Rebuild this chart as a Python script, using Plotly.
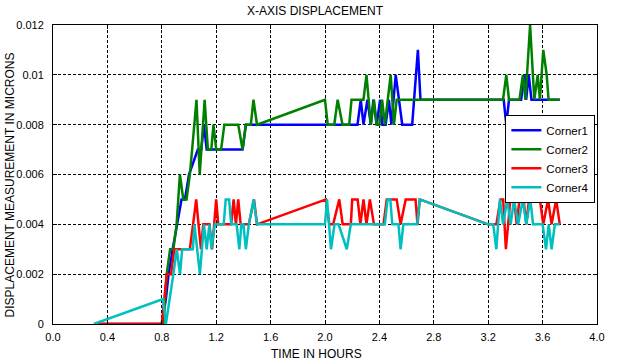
import plotly.graph_objects as go

# ---- data (time in hours, displacement) ----
t_corner1 = [0.31, 0.80, 0.83, 0.85, 0.88, 0.91, 0.945, 0.97, 1.00, 1.065, 1.09, 1.11, 1.13, 1.236, 1.394, 1.418, 1.455, 1.50,
             2.00, 2.239, 2.263, 2.283, 2.312, 2.337, 2.356, 2.38, 2.405, 2.422, 2.446, 2.47, 2.488, 2.52, 2.544, 2.568, 2.641, 2.683, 2.702,
             3.20, 3.314, 3.333, 3.353, 3.442, 3.467, 3.479, 3.498, 3.518, 3.726]
v_corner1 = [0, 0, 0.001, 0.002, 0.003, 0.004, 0.005, 0.005, 0.006, 0.007, 0.007, 0.008, 0.007, 0.007, 0.007, 0.008, 0.008, 0.008,
             0.008, 0.008, 0.009, 0.008, 0.009, 0.008, 0.009, 0.008, 0.009, 0.008, 0.008, 0.009, 0.008, 0.010, 0.009, 0.008, 0.008, 0.011, 0.009,
             0.009, 0.009, 0.008, 0.009, 0.009, 0.010, 0.009, 0.010, 0.009, 0.009]

t_corner2 = [0.31, 0.812, 0.836, 0.861, 0.885, 0.909, 0.933, 0.958, 0.982, 1.006, 1.023, 1.055, 1.079, 1.115, 1.139, 1.164, 1.18, 1.20, 1.236, 1.26, 1.362, 1.394, 1.418, 1.455, 1.474, 1.50,
             2.00, 2.02, 2.068, 2.093, 2.129, 2.178, 2.195, 2.283, 2.305, 2.337, 2.36, 2.38, 2.40, 2.42, 2.44, 2.483, 2.507, 2.527,
             3.20, 3.309, 3.333, 3.353, 3.43, 3.455, 3.474, 3.508, 3.539, 3.564, 3.58, 3.605, 3.63, 3.644, 3.726]
v_corner2 = [0, 0, 0.002, 0.003, 0.003, 0.004, 0.006, 0.005, 0.005, 0.006, 0.007, 0.009, 0.006, 0.009, 0.007, 0.007, 0.008, 0.007, 0.007, 0.008, 0.008, 0.007, 0.008, 0.008, 0.009, 0.008,
             0.009, 0.008, 0.008, 0.009, 0.008, 0.008, 0.009, 0.009, 0.010, 0.008, 0.009, 0.008, 0.008, 0.009, 0.008, 0.010, 0.008, 0.009,
             0.009, 0.009, 0.010, 0.009, 0.009, 0.010, 0.009, 0.012, 0.009, 0.010, 0.009, 0.011, 0.010, 0.009, 0.009]

t_corner3 = [0.31, 0.80, 0.836, 0.868, 0.892, 1.006, 1.03, 1.053, 1.07, 1.088, 1.105, 1.15, 1.17, 1.20, 1.215, 1.31, 1.328, 1.345, 1.362, 1.38, 1.44, 1.478, 1.50,
             2.00, 2.007, 2.032, 2.06, 2.105, 2.13, 2.19, 2.20, 2.24, 2.26, 2.283, 2.305, 2.33, 2.36, 2.43, 2.454, 2.527, 2.556, 2.593, 2.666, 2.68, 2.697,
             3.20, 3.26, 3.29, 3.31, 3.33, 3.363, 3.39, 3.41, 3.43, 3.46, 3.48, 3.50, 3.58, 3.605, 3.64, 3.666, 3.70, 3.726]
v_corner3 = [0, 0, 0.002, 0.002, 0.003, 0.003, 0.004, 0.005, 0.004, 0.003, 0.004, 0.004, 0.003, 0.005, 0.004, 0.004, 0.005, 0.004, 0.005, 0.004, 0.004, 0.005, 0.004,
             0.005, 0.005, 0.004, 0.004, 0.005, 0.004, 0.004, 0.005, 0.005, 0.004, 0.005, 0.004, 0.005, 0.004, 0.004, 0.005, 0.005, 0.004, 0.005, 0.005, 0.004, 0.005,
             0.004, 0.004, 0.005, 0.005, 0.003, 0.005, 0.005, 0.004, 0.005, 0.005, 0.004, 0.005, 0.005, 0.004, 0.005, 0.004, 0.005, 0.004]

t_corner4 = [0.30, 0.81, 0.83, 0.86, 0.885, 0.91, 0.934, 0.95, 1.028, 1.04, 1.08, 1.11, 1.13, 1.15, 1.165, 1.19, 1.255, 1.27, 1.295, 1.31, 1.35, 1.37, 1.385, 1.40, 1.418, 1.44, 1.475, 1.50,
             2.00, 2.015, 2.044, 2.07, 2.10, 2.16, 2.19, 2.44, 2.46, 2.48, 2.495, 2.54, 2.556, 2.576, 2.678, 2.697,
             3.20, 3.237, 3.26, 3.286, 3.31, 3.34, 3.365, 3.39, 3.42, 3.455, 3.48, 3.51, 3.53, 3.60, 3.625, 3.645, 3.666, 3.69, 3.726]
v_corner4 = [0, 0.001, 0, 0.001, 0.002, 0.003, 0.002, 0.003, 0.003, 0.004, 0.002, 0.004, 0.003, 0.004, 0.003, 0.004, 0.004, 0.005, 0.005, 0.004, 0.004, 0.003, 0.004, 0.004, 0.003, 0.004, 0.005, 0.004,
             0.004, 0.005, 0.003, 0.004, 0.004, 0.003, 0.004, 0.004, 0.005, 0.005, 0.004, 0.004, 0.003, 0.004, 0.004, 0.005,
             0.004, 0.004, 0.003, 0.005, 0.004, 0.005, 0.004, 0.005, 0.004, 0.005, 0.004, 0.005, 0.004, 0.004, 0.003, 0.004, 0.003, 0.004, 0.004]

series_names = ["Corner1", "Corner2", "Corner3", "Corner4"]
series_t = [t_corner1, t_corner2, t_corner3, t_corner4]
series_v = [v_corner1, v_corner2, v_corner3, v_corner4]
series_colors = ["#0000FF", "#008000", "#FF0000", "#00BFBF"]

x_tick_vals = [0.0, 0.4, 0.8, 1.2, 1.6, 2.0, 2.4, 2.8, 3.2, 3.6, 4.0]
x_tick_text = ["0.0", "0.4", "0.8", "1.2", "1.6", "2.0", "2.4", "2.8", "3.2", "3.6", "4.0"]
y_tick_vals = [0, 0.002, 0.004, 0.006, 0.008, 0.010, 0.012]
y_tick_text = ["0", "0.002", "0.004", "0.006", "0.008", "0.01", "0.012"]

TICK_FONT = dict(family="Liberation Sans Narrow, Arial Narrow, Liberation Sans, Arial, sans-serif", size=11, color="#000000")
TEXT_FONT = dict(family="Liberation Sans, Arial, sans-serif", size=12, color="#000000")
LEGEND_FONT = dict(family="Liberation Sans, Arial, sans-serif", size=11.5, color="#000000")

fig = go.Figure()
for name, t, v, c in zip(series_names, series_t, series_v, series_colors):
    fig.add_trace(go.Scatter(x=t, y=v, mode="lines", name=name,
                             line=dict(color=c, width=2.5)))

axis_common = dict(showline=True, linecolor="#000000", linewidth=1, mirror="allticks",
                   ticks="inside", ticklen=4, tickcolor="#000000",
                   showgrid=True, gridcolor="#000000", gridwidth=1, griddash="3px,2px",
                   zeroline=False, tickfont=TICK_FONT)

fig.update_xaxes(range=[0, 4], tickvals=x_tick_vals, ticktext=x_tick_text, ticklabelstandoff=3, **axis_common)
fig.update_yaxes(range=[0, 0.012], tickvals=y_tick_vals, ticktext=y_tick_text, ticklabelstandoff=6, **axis_common)

fig.update_layout(
    width=617, height=363,
    margin=dict(l=53, r=12, t=25, b=39),
    paper_bgcolor="#FFFFFF", plot_bgcolor="#FFFFFF",
    showlegend=True,
    legend=dict(x=0.997, y=0.70, xanchor="right", yanchor="top",
                bgcolor="#FFFFFF", bordercolor="#000000", borderwidth=1,
                font=LEGEND_FONT, itemwidth=30, tracegroupgap=0),
    annotations=[
        dict(text="X-AXIS DISPLACEMENT", x=0.482, y=1.047, xref="paper", yref="paper",
             xanchor="center", yanchor="middle", showarrow=False, font=TEXT_FONT),
        dict(text="TIME IN HOURS", x=0.484, y=-0.100, xref="paper", yref="paper",
             xanchor="center", yanchor="middle", showarrow=False, font=TEXT_FONT),
        dict(text="DISPLACEMENT MEASUREMENT IN MICRONS", x=-0.080, y=0.465, xref="paper", yref="paper",
             xanchor="center", yanchor="middle", textangle=-90, showarrow=False, font=TEXT_FONT),
    ],
)

fig.write_html("out.html", config={"displayModeBar": False})
